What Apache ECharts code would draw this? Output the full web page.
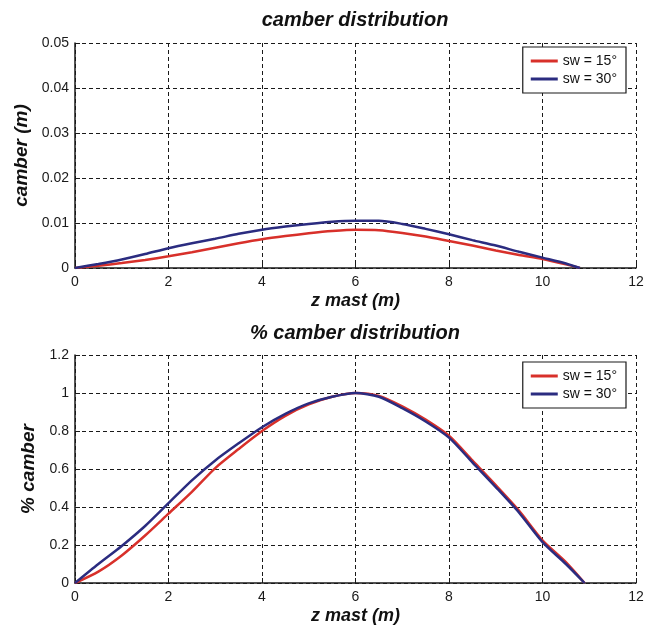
<!DOCTYPE html>
<html>
<head>
<meta charset="utf-8">
<script src="https://cdn.jsdelivr.net/npm/echarts@6/dist/echarts.min.js"></script>
<style>
  html, body { margin: 0; padding: 0; background: #fff; }
  #chart { width: 647px; height: 631px; }
</style>
</head>
<body>
<div id="chart"></div>
<script>
// z positions along the mast (m)
const zTop = [0, 0.5, 1, 1.5, 2, 2.5, 3, 3.5, 4, 4.5, 5, 5.5, 6, 6.5, 7, 7.5, 8, 8.5, 9, 9.5, 10, 10.5, 10.8];
const zBottom = [0, 0.5, 1, 1.5, 2, 2.5, 3, 3.5, 4, 4.5, 5, 5.5, 6, 6.5, 7, 7.5, 8, 8.5, 9, 9.5, 10, 10.5, 10.9];

// camber (m)
const camber15 = [0, 0.0005, 0.0011, 0.0018, 0.0026, 0.0035, 0.0045, 0.0055, 0.0064, 0.0071, 0.0077, 0.0082, 0.0085,
  0.0084, 0.0078, 0.0070, 0.0060, 0.0050, 0.0039, 0.0029, 0.0020, 0.0008, 0];
const camber30 = [0, 0.0009, 0.0019, 0.0031, 0.0044, 0.0055, 0.0065, 0.0076, 0.0085, 0.0092, 0.0098, 0.0103, 0.0105,
  0.0105, 0.0098, 0.0087, 0.0075, 0.0062, 0.0050, 0.0036, 0.0023, 0.0010, 0];

// % camber
const pct15 = [0, 0.06, 0.145, 0.25, 0.365, 0.48, 0.605, 0.705, 0.80, 0.88, 0.94, 0.98, 1.0,
  0.985, 0.93, 0.86, 0.775, 0.645, 0.515, 0.38, 0.225, 0.11, 0];
const pct30 = [0, 0.10, 0.195, 0.30, 0.42, 0.54, 0.645, 0.735, 0.82, 0.89, 0.945, 0.98, 1.0,
  0.98, 0.92, 0.85, 0.765, 0.635, 0.505, 0.37, 0.215, 0.10, 0];

const seriesNames = ["sw = 15°", "sw = 30°"];
const titles = ["camber distribution", "% camber distribution"];

const RED = "#d8302a";
const BLUE = "#2b2c80";
const FONT = "Liberation Sans, Arial, sans-serif";
// invisible marker so the two legends keep separate series names
const SUFFIX = "\u200b";

function pairs(xs, ys) {
  return xs.map((x, i) => [x, ys[i]]);
}

const boldItalic = {
  fontFamily: FONT,
  fontWeight: "bold",
  fontStyle: "italic",
  color: "#111",
};

function xAxisFor(gridIndex) {
  return {
    type: "value",
    gridIndex: gridIndex,
    min: 0,
    max: 12,
    interval: 2,
    name: "z mast (m)",
    nameLocation: "middle",
    nameGap: 24,
    nameTextStyle: { ...boldItalic, fontSize: 18 },
    axisLine: { show: true, onZero: false, lineStyle: { color: "#1a1a1a", width: 1.5 } },
    axisTick: { show: true, inside: true, length: 5, lineStyle: { color: "#1a1a1a" } },
    axisLabel: { color: "#1a1a1a", fontSize: 14, fontFamily: FONT, margin: 7 },
    splitLine: { show: true, lineStyle: { color: "#1a1a1a", type: [4, 3], width: 1 } },
  };
}

function yAxisFor(gridIndex, opts) {
  return {
    type: "value",
    gridIndex: gridIndex,
    min: 0,
    max: opts.max,
    interval: opts.interval,
    name: opts.name,
    nameLocation: "middle",
    nameGap: opts.nameGap,
    nameTextStyle: { ...boldItalic, fontSize: 19 },
    axisLine: { show: true, onZero: false, lineStyle: { color: "#1a1a1a", width: 1.5 } },
    axisTick: { show: true, inside: true, length: 5, lineStyle: { color: "#1a1a1a" } },
    axisLabel: {
      color: "#1a1a1a",
      fontSize: 14,
      fontFamily: FONT,
      margin: 6,
      formatter: opts.formatter,
    },
    splitLine: { show: true, lineStyle: { color: "#1a1a1a", type: [4, 3], width: 1 } },
  };
}

function legendFor(top, suffix) {
  return {
    orient: "vertical",
    right: 21,
    top: top,
    data: seriesNames.map((n) => n + suffix),
    formatter: (name) => name.replace(SUFFIX, ""),
    icon: "rect",
    backgroundColor: "#fff",
    borderColor: "#1a1a1a",
    borderWidth: 1.2,
    borderRadius: 0,
    padding: [7, 9, 7, 8],
    itemWidth: 27,
    itemHeight: 3,
    itemGap: 4,
    textStyle: { color: "#111", fontSize: 14, fontFamily: FONT, lineHeight: 14 },
  };
}

function lineSeries(name, color, idx, data) {
  return {
    name: name,
    type: "line",
    xAxisIndex: idx,
    yAxisIndex: idx,
    data: data,
    smooth: 0.25,
    symbol: "none",
    lineStyle: { color: color, width: 2.5 },
    itemStyle: { color: color },
  };
}

const myChart = echarts.init(document.getElementById("chart"));

myChart.setOption({
  backgroundColor: "#fff",
  animation: false,
  title: [
    {
      text: titles[0],
      left: 355,
      top: 10,
      padding: 0,
      textAlign: "center",
      textStyle: { ...boldItalic, fontSize: 20 },
    },
    {
      text: titles[1],
      left: 355,
      top: 323,
      padding: 0,
      textAlign: "center",
      textStyle: { ...boldItalic, fontSize: 20 },
    },
  ],
  legend: [legendFor(47, ""), legendFor(362, SUFFIX)],
  grid: [
    { left: 75, right: 11, top: 43, height: 225 },
    { left: 75, right: 11, top: 355, height: 228 },
  ],
  xAxis: [xAxisFor(0), xAxisFor(1)],
  yAxis: [
    yAxisFor(0, {
      max: 0.05,
      interval: 0.01,
      name: "camber (m)",
      nameGap: 42,
      formatter: (v) => (v === 0 ? "0" : v.toFixed(2)),
    }),
    yAxisFor(1, {
      max: 1.2,
      interval: 0.2,
      name: "% camber",
      nameGap: 34,
      formatter: (v) => String(Math.round(v * 10) / 10),
    }),
  ],
  series: [
    lineSeries(seriesNames[0], RED, 0, pairs(zTop, camber15)),
    lineSeries(seriesNames[1], BLUE, 0, pairs(zTop, camber30)),
    lineSeries(seriesNames[0] + SUFFIX, RED, 1, pairs(zBottom, pct15)),
    lineSeries(seriesNames[1] + SUFFIX, BLUE, 1, pairs(zBottom, pct30)),
  ],
});
</script>
</body>
</html>
